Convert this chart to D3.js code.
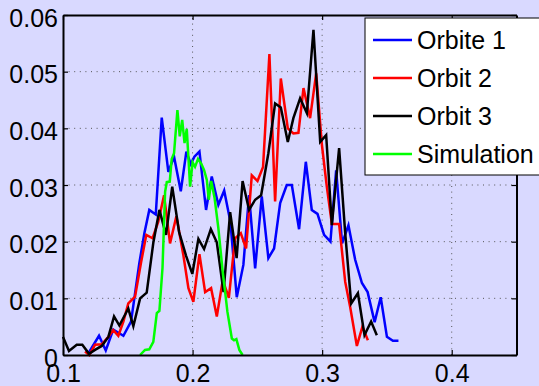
<!DOCTYPE html>
<html>
<head>
<meta charset="utf-8">
<script src="https://cdn.jsdelivr.net/npm/d3@7"></script>
<style>
  html, body { margin: 0; padding: 0; background: #d9d9ff; }
  svg { display: block; }
  text { font-family: "Liberation Sans", Arial, Helvetica, sans-serif; fill: #000; }
</style>
</head>
<body>
<svg id="chart" width="539" height="386"></svg>
<script>
// Histogram samples: [bin centre, relative frequency]
const orbite1 = [
  [0.1193,0.0002],[0.1278,0.0034],[0.1330,0.0008],[0.1388,0.0045],[0.1466,0.0034],
  [0.1525,0.0059],[0.1589,0.0162],[0.1628,0.0215],[0.1666,0.0256],[0.1716,0.0248],
  [0.1762,0.0419],[0.1813,0.0323],[0.1857,0.0350],[0.1909,0.0289],[0.1952,0.0359],
  [0.1986,0.0337],[0.2014,0.0350],[0.2053,0.0359],[0.2104,0.0256],[0.2148,0.0315],
  [0.2199,0.0265],[0.2244,0.0290],[0.2292,0.0235],[0.2341,0.0102],[0.2392,0.0159],
  [0.2436,0.0282],[0.2483,0.0153],[0.2534,0.0280],[0.2585,0.0171],[0.2629,0.0188],
  [0.2676,0.0268],[0.2727,0.0300],[0.2766,0.0300],[0.2822,0.0222],[0.2874,0.0341],
  [0.2920,0.0256],[0.2964,0.0249],[0.3015,0.0212],[0.3064,0.0200],[0.3108,0.0326],
  [0.3154,0.0197],[0.3203,0.0229],[0.3255,0.0168],[0.3307,0.0127],[0.3351,0.0111],
  [0.3405,0.0058],[0.3452,0.0102],[0.3500,0.0032],[0.3546,0.0025],[0.3589,0.0025]
];
const orbit2 = [
  [0.1170,0.0006],[0.1203,0.0000],[0.1247,0.0018],[0.1299,0.0019],[0.1350,0.0032],
  [0.1388,0.0044],[0.1427,0.0034],[0.1466,0.0059],[0.1504,0.0091],[0.1556,0.0103],
  [0.1603,0.0164],[0.1643,0.0212],[0.1691,0.0206],[0.1735,0.0235],[0.1780,0.0282],
  [0.1826,0.0197],[0.1875,0.0245],[0.1929,0.0176],[0.1968,0.0118],[0.2006,0.0094],
  [0.2053,0.0178],[0.2097,0.0111],[0.2143,0.0118],[0.2187,0.0068],[0.2233,0.0132],
  [0.2280,0.0101],[0.2328,0.0206],[0.2372,0.0215],[0.2413,0.0188],[0.2457,0.0317],
  [0.2501,0.0307],[0.2544,0.0332],[0.2593,0.0531],[0.2637,0.0271],[0.2681,0.0488],
  [0.2735,0.0400],[0.2778,0.0391],[0.2817,0.0392],[0.2856,0.0471],[0.2907,0.0418],
  [0.2954,0.0497],[0.2998,0.0371],[0.3036,0.0297],[0.3075,0.0231],[0.3131,0.0231],
  [0.3178,0.0129],[0.3216,0.0085],[0.3268,0.0016],[0.3311,0.0050],[0.3353,0.0026]
];
const orbit3 = [
  [0.1000,0.0032],[0.1046,0.0007],[0.1106,0.0018],[0.1149,0.0018],[0.1201,0.0002],
  [0.1247,0.0009],[0.1299,0.0016],[0.1350,0.0032],[0.1394,0.0068],[0.1435,0.0052],
  [0.1504,0.0082],[0.1543,0.0051],[0.1595,0.0100],[0.1646,0.0110],[0.1697,0.0198],
  [0.1744,0.0256],[0.1795,0.0212],[0.1843,0.0297],[0.1896,0.0217],[0.1950,0.0175],
  [0.1998,0.0143],[0.2045,0.0205],[0.2089,0.0187],[0.2141,0.0222],[0.2187,0.0199],
  [0.2239,0.0111],[0.2290,0.0252],[0.2340,0.0171],[0.2386,0.0307],[0.2436,0.0256],
  [0.2483,0.0274],[0.2529,0.0282],[0.2585,0.0356],[0.2637,0.0444],[0.2681,0.0437],
  [0.2735,0.0376],[0.2778,0.0418],[0.2830,0.0453],[0.2882,0.0427],[0.2933,0.0574],
  [0.2985,0.0376],[0.3031,0.0388],[0.3075,0.0229],[0.3131,0.0365],[0.3178,0.0215],
  [0.3224,0.0091],[0.3276,0.0109],[0.3327,0.0035],[0.3378,0.0059],[0.3422,0.0035]
];
const simulation = [
  [0.1595,0.0000],[0.1633,0.0009],[0.1666,0.0010],[0.1697,0.0023],[0.1724,0.0074],
  [0.1744,0.0078],[0.1768,0.0154],[0.1788,0.0288],[0.1801,0.0305],[0.1824,0.0306],
  [0.1839,0.0346],[0.1857,0.0356],[0.1883,0.0432],[0.1901,0.0386],[0.1920,0.0415],
  [0.1938,0.0374],[0.1955,0.0399],[0.1981,0.0297],[0.2000,0.0340],[0.2019,0.0332],
  [0.2042,0.0346],[0.2066,0.0338],[0.2089,0.0326],[0.2110,0.0309],[0.2125,0.0274],
  [0.2144,0.0307],[0.2170,0.0277],[0.2199,0.0224],[0.2233,0.0146],[0.2251,0.0112],
  [0.2269,0.0076],[0.2303,0.0029],[0.2320,0.0026],[0.2338,0.0028],[0.2361,0.0009],
  [0.2386,0.0000]
];

const seriesNames  = ["Orbite 1", "Orbit 2", "Orbit 3", "Simulation"];
const seriesColors = ["#0000ff", "#ff0000", "#000000", "#00ff00"];
const xTicks = [0.1, 0.2, 0.3, 0.4];
const yTicks = [0, 0.01, 0.02, 0.03, 0.04, 0.05, 0.06];

(function draw() {
  const svg = d3.select("#chart");
  const plotL = 63, plotR = 516.5, plotT = 15, plotB = 355;

  const x = d3.scaleLinear().domain([0.1, 0.45]).range([plotL, plotR]);
  const y = d3.scaleLinear().domain([0, 0.06]).range([plotB, plotT]);

  // dotted grid
  const grid = svg.append("g")
    .attr("stroke", "#555")
    .attr("stroke-width", 1)
    .attr("stroke-dasharray", "1,4.6");
  grid.selectAll("line.gx").data(xTicks.filter(t => t > 0.1)).join("line")
    .attr("class", "gx")
    .attr("x1", d => x(d)).attr("x2", d => x(d))
    .attr("y1", plotB).attr("y2", plotT);
  grid.selectAll("line.gy").data(yTicks.filter(t => t > 0 && t < 0.06)).join("line")
    .attr("class", "gy")
    .attr("x1", plotL).attr("x2", plotR)
    .attr("y1", d => y(d)).attr("y2", d => y(d));

  // data lines
  const line = d3.line().x(d => x(d[0])).y(d => y(d[1]));
  const allSeries = [orbite1, orbit2, orbit3, simulation];
  svg.append("g").selectAll("path").data(allSeries).join("path")
    .attr("d", line)
    .attr("fill", "none")
    .attr("stroke", (d, i) => seriesColors[i])
    .attr("stroke-width", 2.5)
    .attr("stroke-linejoin", "miter");

  // axes with inward ticks on all four sides
  const fmtY = d => d === 0 ? "0" : d3.format(".2f")(d);
  const styleAxis = g => {
    g.select(".domain").attr("stroke", "#000").attr("stroke-width", 2);
    g.selectAll(".tick line").attr("stroke", "#000").attr("stroke-width", 1.2);
    g.selectAll("text").attr("font-size", "25px").attr("font-family", null);
  };

  svg.append("g").attr("transform", `translate(0,${plotB})`)
    .call(d3.axisBottom(x).tickValues(xTicks).tickFormat(d3.format(".1f"))
      .tickSizeInner(-5).tickSizeOuter(0).tickPadding(9))
    .call(styleAxis);

  svg.append("g").attr("transform", `translate(0,${plotT})`)
    .call(d3.axisTop(x).tickValues(xTicks).tickFormat("")
      .tickSizeInner(-5).tickSizeOuter(0))
    .call(styleAxis);

  svg.append("g").attr("transform", `translate(${plotL},0)`)
    .call(d3.axisLeft(y).tickValues(yTicks).tickFormat(fmtY)
      .tickSizeInner(-5).tickSizeOuter(0).tickPadding(5))
    .call(styleAxis)
    .call(g => g.selectAll("text").attr("dy", "0.44em"));

  svg.append("g").attr("transform", `translate(${plotR},0)`)
    .call(d3.axisRight(y).tickValues(yTicks).tickFormat("")
      .tickSizeInner(-5).tickSizeOuter(0))
    .call(styleAxis);

  // legend
  const legend = svg.append("g").attr("transform", "translate(365,18)");
  legend.append("rect")
    .attr("x", 0).attr("y", 0).attr("width", 180).attr("height", 157)
    .attr("fill", "#fff").attr("stroke", "#000").attr("stroke-width", 1);
  const items = legend.selectAll("g.item").data(seriesNames).join("g")
    .attr("class", "item")
    .attr("transform", (d, i) => `translate(0,${22 + i * 38})`);
  items.append("line")
    .attr("x1", 8).attr("x2", 47).attr("y1", 0).attr("y2", 0)
    .attr("stroke", (d, i) => seriesColors[i]).attr("stroke-width", 2.5);
  items.append("text")
    .attr("x", 52).attr("y", 9)
    .attr("font-size", "25px")
    .text(d => d);
})();
</script>
</body>
</html>
